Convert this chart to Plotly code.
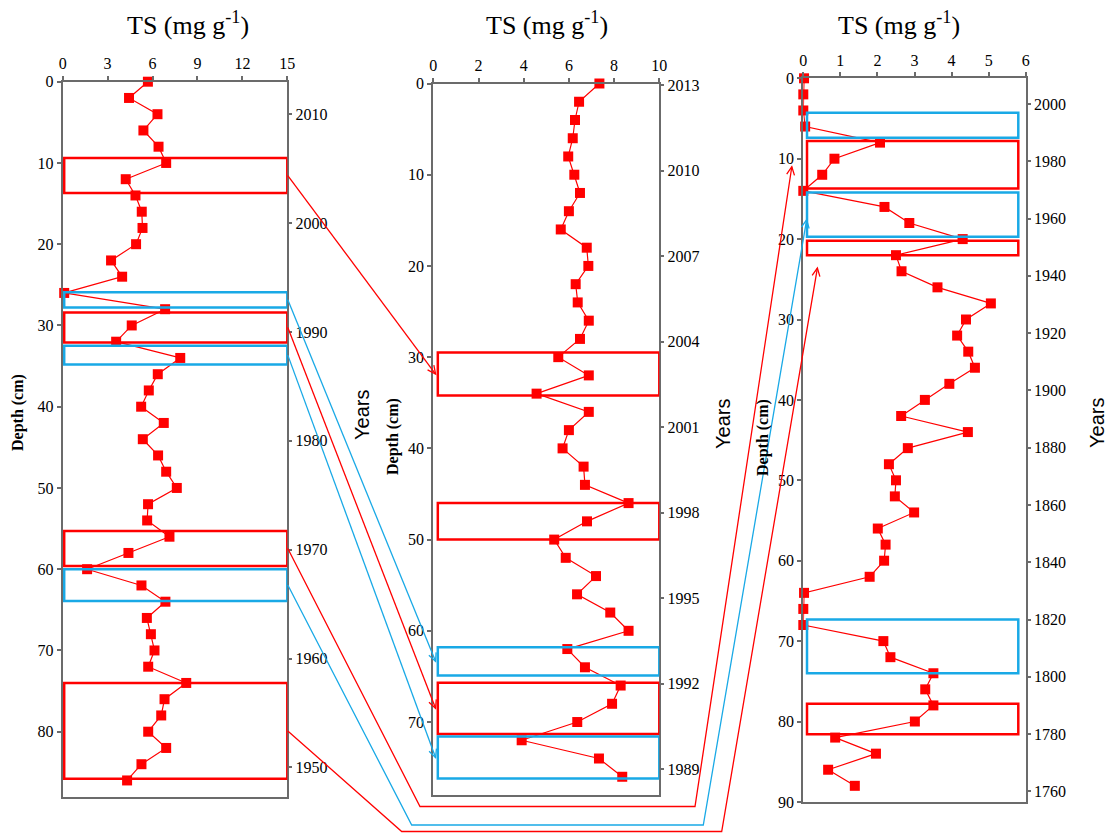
import math
import plotly.graph_objects as go

# ---------------- data ----------------
# Core 1 (left): TS vs depth
depth_1 = list(range(0, 88, 2))
ts_1 = [5.69, 4.43, 6.33, 5.39, 6.40, 6.91, 4.21, 4.86, 5.28, 5.33, 4.90, 3.23, 3.97,
        0.10, 6.84, 4.61, 3.57, 7.85, 6.35, 5.75, 5.24, 6.75, 5.35, 6.37, 6.91, 7.62,
        5.70, 5.64, 7.13, 4.39, 1.63, 5.26, 6.86, 5.62, 5.89, 6.13, 5.71, 8.25, 6.80,
        6.58, 5.71, 6.91, 5.26, 4.30]

# Core 2 (middle)
depth_2 = list(range(0, 78, 2))
ts_2 = [7.35, 6.45, 6.27, 6.17, 5.97, 6.24, 6.49, 6.00, 5.64, 6.79, 6.86, 6.30, 6.39,
        6.88, 6.49, 5.53, 6.88, 4.57, 6.88, 6.00, 5.72, 6.65, 6.71, 8.64, 6.80, 5.35,
        5.86, 7.20, 6.36, 7.83, 8.64, 5.93, 6.71, 8.29, 7.91, 6.37, 3.91, 7.33, 8.36]

# Core 3 (right)
depth_3 = list(range(0, 90, 2))
ts_3 = [0.02, 0.0, 0.0, 0.05, 2.07, 0.84, 0.51, 0.0, 2.19, 2.86, 4.30, 2.50, 2.65,
        3.62, 5.06, 4.39, 4.15, 4.45, 4.63, 3.94, 3.28, 2.64, 4.44, 2.82, 2.31, 2.50,
        2.47, 2.99, 2.01, 2.22, 2.18, 1.79, 0.02, 0.0, 0.0, 2.16, 2.35, 3.51, 3.29,
        3.51, 3.01, 0.86, 1.96, 0.67, 1.39]

# Axis extents
ts_max = [15, 10, 6]
ts_step = [3, 2, 1]
depth_max = [88, 78, 90]

# Dating (year scale on the right of each core)
year_range = [(1947.31, 2012.99), (1988.10, 2013.06), (1756.35, 2008.98)]
year_ticks = [
    [1950, 1960, 1970, 1980, 1990, 2000, 2010],
    [1989, 1992, 1995, 1998, 2001, 2004, 2007, 2010, 2013],
    list(range(1760, 2001, 20)),
]

# Highlighted depth intervals (top, bottom) per core
red_zones = [
    [(9.4, 13.7), (28.4, 32.1), (55.3, 59.6), (74.0, 85.8)],
    [(29.5, 34.2), (46.0, 50.0), (65.7, 71.3)],
    [(7.8, 13.7), (20.2, 22.0), (77.8, 81.6)],
]
blue_zones = [
    [(25.9, 27.8), (32.5, 34.8), (60.0, 63.9)],
    [(61.8, 64.9), (71.6, 76.2)],
    [(4.3, 7.4), (14.2, 19.7), (67.3, 74.0)],
]

# ---------------- layout geometry ----------------
W, H = 1115, 833
# plot-area pixel boxes: left, right, top, bottom
PANELS = [(62.7, 287.3, 81.7, 796.7),
          (433.3, 659.3, 83.5, 795.0),
          (803.3, 1025.7, 78.3, 801.9)]
ZONE_X = [(0.1, 15.0), (0.2, 10.0), (0.1, 5.8)]

RED = "#ff0000"
BLUE = "#19a9e6"
AXIS_C = "#6b6b6b"
SERIF = "Liberation Serif"
SANS = "Liberation Sans"


def fx(px):
    return px / W


def fy(py):
    return 1 - py / H


def to_px(panel, v, d):
    l, r, t, b = PANELS[panel]
    return l + v / ts_max[panel] * (r - l), t + d / depth_max[panel] * (b - t)


fig = go.Figure()
layout = dict(
    width=W, height=H, margin=dict(l=0, r=0, t=0, b=0),
    template="none", paper_bgcolor="white", plot_bgcolor="white",
    showlegend=False, font=dict(family=SERIF, size=16, color="black"),
)

series = [(depth_1, ts_1), (depth_2, ts_2), (depth_3, ts_3)]
for i, (dep, ts) in enumerate(series):
    n = i + 1
    xa = "x" if n == 1 else f"x{n}"
    ya = "y" if n == 1 else f"y{n}"
    yr_ax = f"y{n + 3}"
    l, r, t, b = PANELS[i]
    fig.add_trace(go.Scatter(
        x=ts, y=dep, xaxis=xa, yaxis=ya, mode="lines+markers",
        line=dict(color=RED, width=1.2),
        marker=dict(symbol="square", size=10, color=RED),
        cliponaxis=False, hoverinfo="skip",
    ))
    # year axis carrier
    fig.add_trace(go.Scatter(
        x=[0, 0], y=list(year_range[i]), xaxis=xa, yaxis=yr_ax,
        mode="markers", marker=dict(opacity=0), hoverinfo="skip",
    ))
    tick_font = dict(family=SERIF, size=16, color="black")
    layout[f"xaxis{'' if n == 1 else n}"] = dict(
        domain=[fx(l), fx(r)], anchor=ya, side="top",
        range=[0, ts_max[i]], dtick=ts_step[i], tick0=0,
        showline=True, linecolor=AXIS_C, linewidth=2, mirror=True,
        ticks="outside", ticklen=4, tickcolor=AXIS_C, tickwidth=1.5,
        showgrid=False, zeroline=False, tickfont=tick_font, automargin=False,
    )
    layout[f"yaxis{'' if n == 1 else n}"] = dict(
        domain=[fy(b), fy(t)], anchor=xa,
        range=[depth_max[i], 0], dtick=10, tick0=0,
        showline=True, linecolor=AXIS_C, linewidth=2, mirror=True,
        ticks="outside", ticklen=4, tickcolor=AXIS_C, tickwidth=1.5,
        showgrid=False, zeroline=False, tickfont=tick_font, automargin=False,
    )
    layout[f"yaxis{n + 3}"] = dict(
        overlaying=ya, anchor=xa, side="right",
        range=list(year_range[i]), tickvals=year_ticks[i],
        ticks="outside", ticklen=4, tickcolor=AXIS_C, tickwidth=1.5,
        showline=False, showgrid=False, zeroline=False,
        tickfont=tick_font, automargin=False,
    )

shapes = []
# highlighted zones
for i in range(3):
    xr = "x" if i == 0 else f"x{i + 1}"
    yr = "y" if i == 0 else f"y{i + 1}"
    x0, x1 = ZONE_X[i]
    for zones, col in ((red_zones[i], RED), (blue_zones[i], BLUE)):
        for top, bot in zones:
            shapes.append(dict(type="rect", xref=xr, yref=yr, x0=x0, x1=x1,
                               y0=top, y1=bot, line=dict(color=col, width=2.5),
                               fillcolor="rgba(0,0,0,0)", layer="above"))


def mid(z):
    return (z[0] + z[1]) / 2


def path_shape(pts, col):
    d = "M " + " L ".join(f"{fx(px):.5f},{fy(py):.5f}" for px, py in pts)
    return dict(type="path", xref="paper", yref="paper", path=d,
                line=dict(color=col, width=1.3), layer="above")


def arrow_head(p_from, tip, col, size=9, spread=0.45):
    ang = math.atan2(tip[1] - p_from[1], tip[0] - p_from[0])
    a = (tip[0] - size * math.cos(ang - spread), tip[1] - size * math.sin(ang - spread))
    c = (tip[0] - size * math.cos(ang + spread), tip[1] - size * math.sin(ang + spread))
    return path_shape([a, tip, c], col)


# connections between cores: (source zone on core 1, target core, target point, colour, route)
links = [
    (red_zones[0][0], 1, (0.1, mid(red_zones[1][0])), RED, None),
    (blue_zones[0][0], 1, (0.1, mid(blue_zones[1][0])), BLUE, None),
    (red_zones[0][1], 1, (0.1, mid(red_zones[1][2])), RED, None),
    (blue_zones[0][1], 1, (0.1, mid(blue_zones[1][1])), BLUE, None),
    (red_zones[0][2], 2, (-0.31, 11.0), RED, (420.0, 695.0, 806.5)),
    (blue_zones[0][2], 2, (0.09, 17.6), BLUE, (411.7, 703.3, 825.0)),
    (red_zones[0][3], 2, (0.38, 23.6), RED, (401.7, 721.7, 831.5)),
]
for src, tgt, (tv, td), col, route in links:
    start = (PANELS[0][1] + 0.5, to_px(0, 0, mid(src))[1])
    tip = to_px(tgt, tv, td)
    pts = [start]
    if route:
        pts += [(route[0], route[2]), (route[1], route[2])]
    pts.append(tip)
    shapes.append(path_shape(pts, col))
    shapes.append(arrow_head(pts[-2], tip, col))

layout["shapes"] = shapes

annotations = []
title_x = [188, 547, 899]
depth_lab_pos = [(18, 413), (393, 437), (763, 438)]
years_lab_pos = [(362, 415), (723, 424), (1097, 423)]
for i in range(3):
    annotations.append(dict(
        text="TS (mg g<sup>-1</sup>)", x=fx(title_x[i]), y=fy(24),
        xref="paper", yref="paper", showarrow=False,
        xanchor="center", yanchor="middle",
        font=dict(family=SERIF, size=26, color="black")))
    annotations.append(dict(
        text="<b>Depth (cm)</b>", x=fx(depth_lab_pos[i][0]), y=fy(depth_lab_pos[i][1]),
        xref="paper", yref="paper", showarrow=False, textangle=-90,
        xanchor="center", yanchor="middle",
        font=dict(family=SERIF, size=16, color="black")))
    annotations.append(dict(
        text="Years", x=fx(years_lab_pos[i][0]), y=fy(years_lab_pos[i][1]),
        xref="paper", yref="paper", showarrow=False, textangle=-90,
        xanchor="center", yanchor="middle",
        font=dict(family=SANS, size=20, color="black")))
layout["annotations"] = annotations

fig.update_layout(**layout)
fig.write_html("out.html")
